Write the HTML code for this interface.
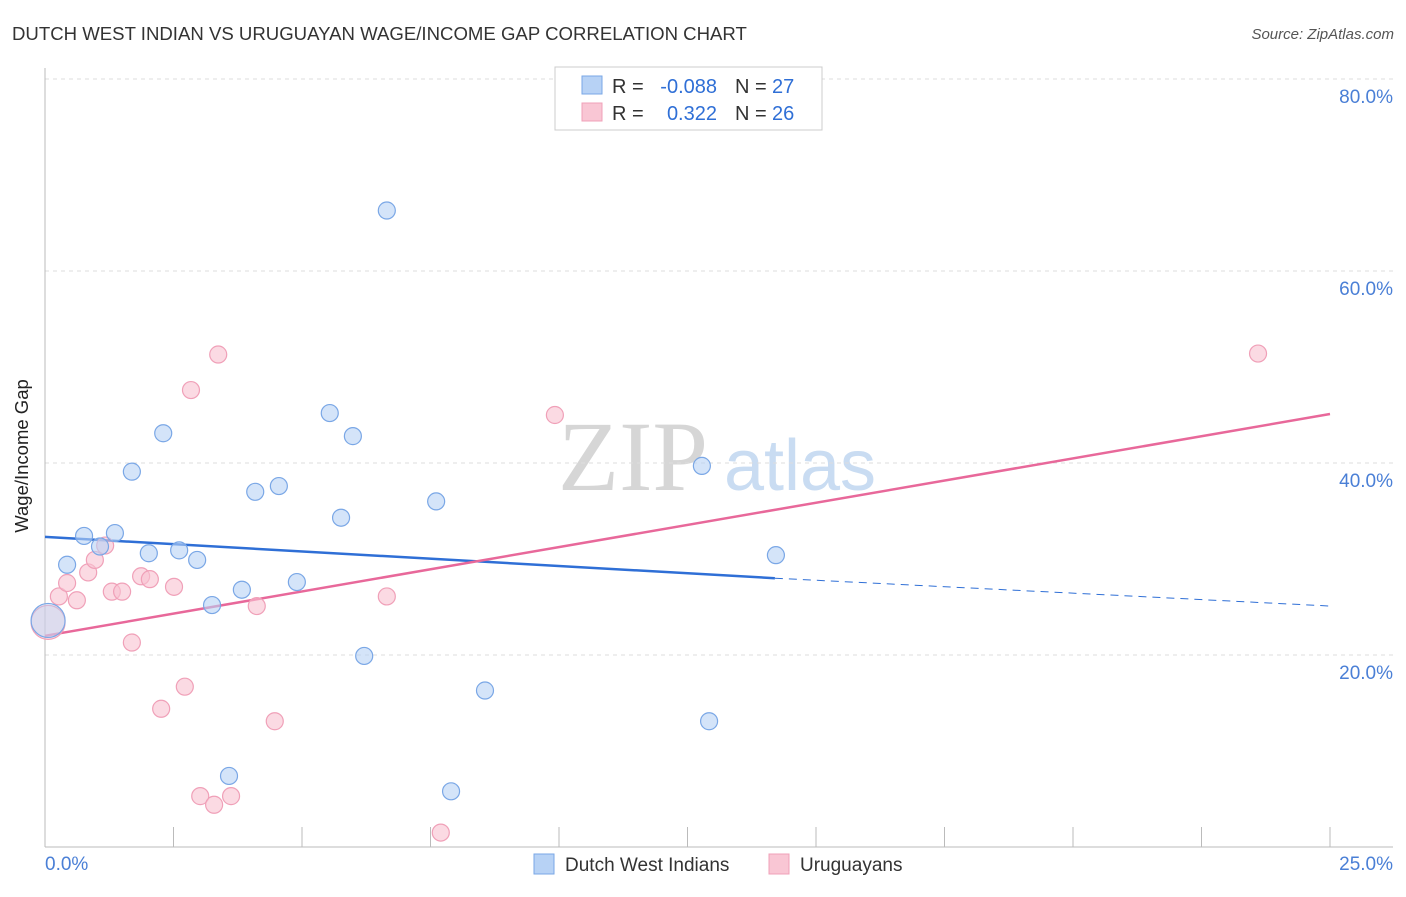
<!DOCTYPE html>
<html><head><meta charset="utf-8"><style>
body{margin:0;background:#fff;font-family:"Liberation Sans",sans-serif;}
</style></head><body>
<svg id="c" width="1406" height="892" xmlns="http://www.w3.org/2000/svg" style="font-family:'Liberation Sans',sans-serif">
<text x="12" y="40" font-size="18.6" fill="#333">DUTCH WEST INDIAN VS URUGUAYAN WAGE/INCOME GAP CORRELATION CHART</text>
<text x="1394" y="39" font-size="15" fill="#555" font-style="italic" text-anchor="end">Source: ZipAtlas.com</text>
<text x="28" y="456" font-size="18.5" fill="#222" text-anchor="middle" transform="rotate(-90 28 456)">Wage/Income Gap</text>
<g><text x="633" y="490" font-size="100" fill="#d6d6d6" style="font-family:'Liberation Serif',serif" text-anchor="middle">ZIP</text><text x="800" y="490" font-size="72" fill="#c9dcf2" text-anchor="middle">atlas</text></g>
<g id="grid"></g><g id="axes"></g><g id="lines"></g><g id="pts"></g>
<g>
<rect x="555" y="67" width="267" height="63" fill="#fff" stroke="#ccc"/>
<rect x="582" y="76" width="20" height="18" fill="#b7d2f5" stroke="#7aa7e6"/>
<rect x="582" y="103" width="20" height="18" fill="#f9c6d4" stroke="#f0a0b8"/>
<text x="612" y="93" font-size="20" fill="#333">R =</text>
<text x="717" y="93" font-size="20" fill="#2f6fd6" text-anchor="end">-0.088</text>
<text x="735" y="93" font-size="20" fill="#333">N =</text>
<text x="772" y="93" font-size="20" fill="#2f6fd6">27</text>
<text x="612" y="120" font-size="20" fill="#333">R =</text>
<text x="717" y="120" font-size="20" fill="#2f6fd6" text-anchor="end">0.322</text>
<text x="735" y="120" font-size="20" fill="#333">N =</text>
<text x="772" y="120" font-size="20" fill="#2f6fd6">26</text>
</g>
<g>
<rect x="534" y="854" width="20" height="20" fill="#b7d2f5" stroke="#7aa7e6"/>
<text x="565" y="871" font-size="19" fill="#333">Dutch West Indians</text>
<rect x="769" y="854" width="20" height="20" fill="#f9c6d4" stroke="#f0a0b8"/>
<text x="800" y="871" font-size="19" fill="#333">Uruguayans</text>
</g>
</svg>
<script>
const yTicks=[20,40,60,80];
const xTickLabels=["0.0%","25.0%"];
const blueX=[0.43,0.76,1.07,1.36,1.69,2.02,2.30,2.61,2.96,3.25,3.58,3.83,4.09,4.55,4.90,5.54,5.76,5.99,6.21,6.65,7.61,7.90,8.56,12.78,12.92,14.22,0.06];
const blueY=[29.4,32.4,31.3,32.7,39.1,30.6,43.1,30.9,29.9,25.2,7.4,26.8,37.0,37.6,27.6,45.2,34.3,42.8,19.9,66.3,36.0,5.8,16.3,39.7,13.1,30.4,23.6];
const pinkX=[0.06,0.27,0.43,0.62,0.84,0.97,1.17,1.30,1.50,1.69,1.87,2.04,2.26,2.51,2.72,2.84,3.02,3.29,3.37,3.62,4.12,4.47,6.65,7.70,9.92,23.60];
const pinkY=[23.4,26.1,27.5,25.7,28.6,29.9,31.4,26.6,26.6,21.3,28.2,27.9,14.4,27.1,16.7,47.6,5.3,4.4,51.3,5.3,25.1,13.1,26.1,1.5,45.0,51.4];
const blueTrend=[32.3,28.0,25.1];
const blueTrendX=[0,14.2,25];
const pinkTrend=[22.0,45.1];
const pinkTrendX=[0,25];
const NS="http://www.w3.org/2000/svg";
const X=v=>45+v*51.4, Y=v=>847-v*9.6;
function mk(p,t,a){const e=document.createElementNS(NS,t);for(const k in a)e.setAttribute(k,a[k]);document.getElementById(p).appendChild(e);return e;}
yTicks.forEach(t=>{
 const l=mk('grid','line',{x1:45,x2:1393,y1:Y(t),y2:Y(t),stroke:'#ddd','stroke-dasharray':'4,4'});
 
 
 const tx=mk('grid','text',{x:1393,y:Y(t)+24,'font-size':19,fill:'#4a7fd6','text-anchor':'end'});tx.textContent=t.toFixed(1)+'%';
 
 
});
mk('axes','line',{x1:45,x2:45,y1:68,y2:847,stroke:'#bbb'});
mk('axes','line',{x1:45,x2:1393,y1:847,y2:847,stroke:'#bbb'});
for(let i=0;i<=10;i++){const t=mk('axes','line',{x1:X(i*2.5),x2:X(i*2.5),y1:827,y2:847,stroke:'#bbb'});
 
 }
[[45,'start'],[1393,'end']].forEach((p,i)=>{const t=mk('axes','text',{x:p[0],y:870,'font-size':19,fill:'#4a7fd6','text-anchor':p[1]});t.textContent=xTickLabels[i];
 
 });
const b1=mk('lines','line',{x1:X(blueTrendX[0]),y1:Y(blueTrend[0]),x2:X(blueTrendX[1]),y2:Y(blueTrend[1]),stroke:'#2f6fd6','stroke-width':2.5});


const b2=mk('lines','line',{x1:X(blueTrendX[1]),y1:Y(blueTrend[1]),x2:X(blueTrendX[2]),y2:Y(blueTrend[2]),stroke:'#2f6fd6','stroke-width':1,'stroke-dasharray':'8,6'});


const p1=mk('lines','line',{x1:X(pinkTrendX[0]),y1:Y(pinkTrend[0]),x2:X(pinkTrendX[1]),y2:Y(pinkTrend[1]),stroke:'#e8689a','stroke-width':2.5});


function pts(xs,ys,fill,stroke,name,big){xs.forEach((x,i)=>{const r=(big&&x<0.1)?17:8.5;
 const c=mk('pts','circle',{cx:X(x),cy:Y(ys[i]),r:r,fill:fill,'fill-opacity':r>10?0.45:0.6,stroke:stroke,'stroke-width':1.2});
 
 });}
pts(pinkX,pinkY,'#f9c2d1','#f0a0b8','uruguayan-point',true);
pts(blueX,blueY,'#b7d2f5','#7aa7e6','dutch-west-indian-point',true);
</script>
</body></html>
